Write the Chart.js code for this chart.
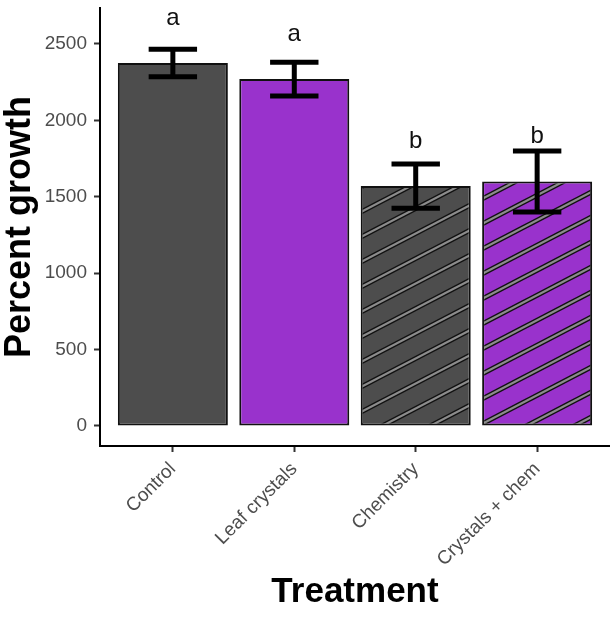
<!DOCTYPE html>
<html>
<head>
<meta charset="utf-8">
<script src="https://cdn.jsdelivr.net/npm/chart.js@4"></script>
<style>
  html, body { margin: 0; padding: 0; background: #fff; }
  #wrap { width: 610px; height: 619px; }
</style>
</head>
<body>
<div id="wrap"><canvas id="growthChart"></canvas></div>
<script>
var treatments = ["Control", "Leaf crystals", "Chemistry", "Crystals + chem"];
var growthMean = [2375, 2270, 1570, 1600];
var growthErr = [90, 110, 145, 200];
var groupLetters = ["a", "a", "b", "b"];
var yTicks = [0, 500, 1000, 1500, 2000, 2500];

var FONT = "'Liberation Sans', Arial, sans-serif";
var GREY = "#4d4d4d";
var PURPLE = "#9932cc";

// diagonal stripes like ggpattern: black-edged grey stripes on the fill colour
function stripePattern(base) {
  var tile = document.createElement("canvas");
  tile.width = 48;
  tile.height = 25;
  var c = tile.getContext("2d");
  c.fillStyle = base;
  c.fillRect(0, 0, 48, 25);
  [[5, "#111"], [2.2, "#8c8c8c"]].forEach(function (s) {
    c.lineWidth = s[0];
    c.strokeStyle = s[1];
    [-25, 0, 25].forEach(function (dy) {
      c.beginPath();
      c.moveTo(-48, 50 + dy);
      c.lineTo(96, -25 + dy);
      c.stroke();
    });
  });
  return c.createPattern(tile, "repeat");
}

var barFills = [GREY, PURPLE, stripePattern(GREY), stripePattern(PURPLE)];

var errorBarPlugin = {
  id: "errorBars",
  afterDatasetsDraw: function (chart) {
    var ctx = chart.ctx, y = chart.scales.y;
    chart.getDatasetMeta(0).data.forEach(function (bar, i) {
      var top = y.getPixelForValue(growthMean[i] + growthErr[i]);
      var bot = y.getPixelForValue(growthMean[i] - growthErr[i]);
      var half = bar.width * 0.22;
      ctx.save();
      ctx.strokeStyle = "#000";
      ctx.lineWidth = 5;
      ctx.beginPath();
      ctx.moveTo(bar.x, top); ctx.lineTo(bar.x, bot);
      ctx.moveTo(bar.x - half, top); ctx.lineTo(bar.x + half, top);
      ctx.moveTo(bar.x - half, bot); ctx.lineTo(bar.x + half, bot);
      ctx.stroke();
      // significance letters
      ctx.fillStyle = "#111";
      ctx.font = "24px " + FONT;
      ctx.textAlign = "center";
      ctx.textBaseline = "alphabetic";
      ctx.fillText(groupLetters[i], bar.x, y.getPixelForValue(growthMean[i] + 250));
      ctx.restore();
    });
  }
};

var ctx = document.getElementById("growthChart").getContext("2d");
var growthChart = new Chart(ctx, {
  type: "bar",
  data: {
    datasets: [{
      data: treatments.map(function (t, i) { return { x: i + 1, y: growthMean[i] }; }),
      backgroundColor: barFills,
      borderColor: "#111",
      borderWidth: 2,
      borderSkipped: false,
      categoryPercentage: 1,
      barPercentage: 0.906
    }]
  },
  options: {
    responsive: true,
    maintainAspectRatio: false,
    animation: false,
    layout: { padding: { top: 8, right: 0, bottom: 0, left: 0 } },
    scales: {
      x: {
        type: "linear",
        offset: false,
        min: 0.4,
        max: 4.6,
        afterBuildTicks: function (scale) {
          scale.ticks = treatments.map(function (t, i) { return { value: i + 1 }; });
        },
        afterFit: function (scale) {
          scale.height = 173;
          scale.paddingLeft = 0;
          scale.paddingRight = 0;
        },
        grid: { offset: false, drawOnChartArea: false, tickLength: 6, tickWidth: 2, tickColor: "#333" },
        border: { color: "#000", width: 2 },
        ticks: {
          autoSkip: false,
          minRotation: 45,
          maxRotation: 45,
          padding: 6,
          color: GREY,
          font: { family: FONT, size: 19 },
          callback: function (v) { return treatments[Math.round(v) - 1]; }
        },
        title: {
          display: true,
          text: "Treatment",
          color: "#000",
          font: { family: FONT, size: 35, weight: "bold", lineHeight: 1.1 },
          padding: { top: 0, bottom: 7 }
        }
      },
      y: {
        min: -131,
        max: 2735,
        afterBuildTicks: function (scale) {
          scale.ticks = yTicks.map(function (v) { return { value: v }; });
        },
        afterFit: function (scale) {
          scale.width = 100;
          scale.paddingTop = 0;
          scale.paddingBottom = 0;
        },
        grid: { drawOnChartArea: false, tickLength: 6, tickWidth: 2, tickColor: "#333" },
        border: { color: "#000", width: 2 },
        ticks: {
          padding: 7,
          color: GREY,
          font: { family: FONT, size: 19 },
          callback: function (v) { return String(v); }
        },
        title: {
          display: true,
          text: "Percent growth",
          color: "#000",
          font: { family: FONT, size: 36, weight: "bold", lineHeight: 1.1 },
          padding: { top: 0, bottom: 0 }
        }
      }
    },
    plugins: {
      legend: { display: false },
      tooltip: { enabled: false }
    }
  },
  plugins: [errorBarPlugin]
});
</script>
</body>
</html>
